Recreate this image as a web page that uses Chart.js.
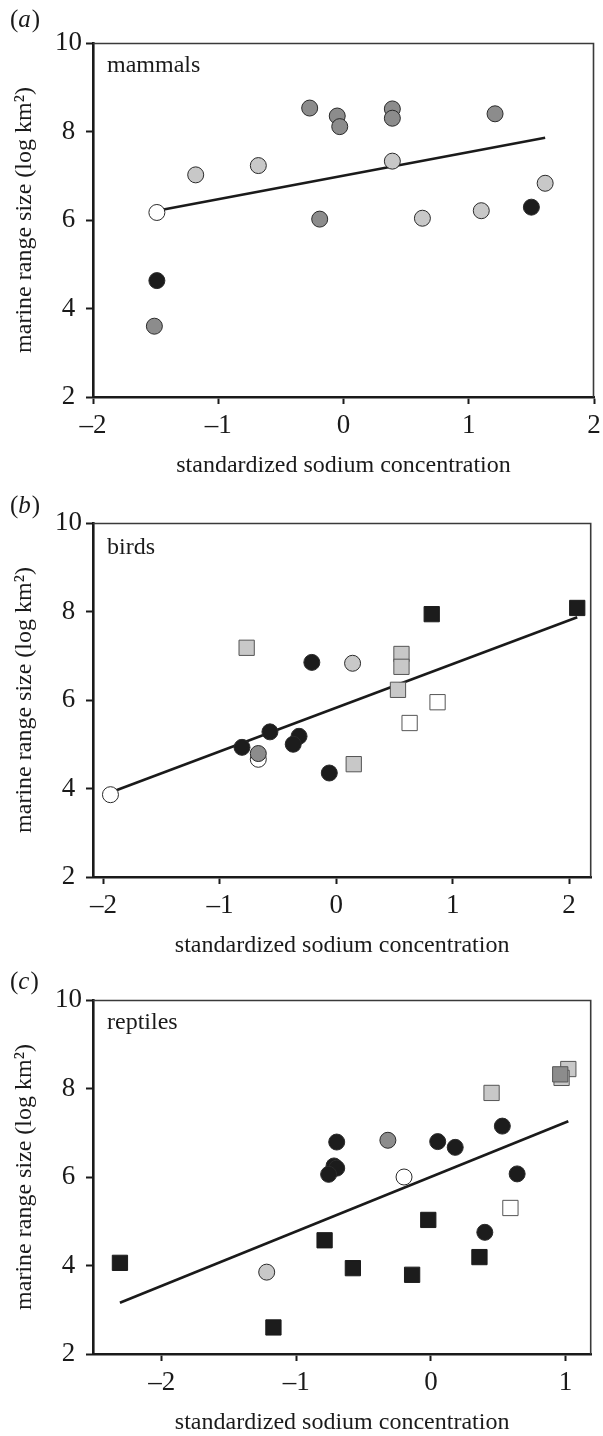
<!DOCTYPE html>
<html><head><meta charset="utf-8">
<script src="https://cdn.jsdelivr.net/npm/chart.js@4.4.0/dist/chart.umd.min.js"></script>
<style>
html,body{margin:0;padding:0;background:#fff;}
body{width:603px;height:1436px;position:relative;overflow:hidden;}
canvas{position:absolute;left:0;}
</style></head><body>
<canvas id="ca" width="603" height="480" style="top:0px"></canvas>
<canvas id="cb" width="603" height="480" style="top:480px"></canvas>
<canvas id="cc" width="603" height="480" style="top:957px"></canvas>
<script>
// ---------- data ----------
const yTicks = [2, 4, 6, 8, 10];
const xTitle = 'standardized sodium concentration';
const yTitle = 'marine range size (log km\u00B2)';

// (a) mammals
const aXTicks = [-2, -1, 0, 1, 2];
const aWhiteCircles = [[-1.49, 6.17]];
const aLightCircles = [[-1.18, 7.02], [-0.68, 7.23], [0.39, 7.33], [0.63, 6.04], [1.10, 6.21], [1.61, 6.83]];
const aDarkCircles = [[-0.27, 8.53], [-0.05, 8.35], [-0.03, 8.11], [-0.19, 6.02], [0.39, 8.51], [0.39, 8.30], [1.21, 8.40], [-1.51, 3.60]];
const aBlackCircles = [[-1.49, 4.63], [1.50, 6.29]];
const aFitX = [-1.49, 1.61];
const aFitY = [6.21, 7.86];

// (b) birds
const bXTicks = [-2, -1, 0, 1, 2];
const bWhiteCircles = [[-1.94, 3.86], [-0.67, 4.66]];
const bDarkCircles = [[-0.67, 4.79]];
const bLightCircles = [[0.14, 6.83]];
const bBlackCircles = [[-0.21, 6.85], [-0.57, 5.28], [-0.81, 4.93], [-0.32, 5.18], [-0.37, 5.00], [-0.06, 4.35]];
const bLightSquares = [[-0.77, 7.18], [0.56, 7.04], [0.56, 6.75], [0.53, 6.23], [0.15, 4.55]];
const bWhiteSquares = [[0.87, 5.95], [0.63, 5.48]];
const bBlackSquares = [[0.82, 7.94], [2.07, 8.08]];
const bFitX = [-1.93, 2.07];
const bFitY = [3.92, 7.87];

// (c) reptiles
const cXTicks = [-2, -1, 0, 1];
const cBlackCircles = [[-0.70, 6.79], [-0.72, 6.25], [-0.70, 6.20], [-0.76, 6.06], [0.05, 6.80], [0.18, 6.67], [0.53, 7.15], [0.64, 6.07], [0.40, 4.75]];
const cLightCircles = [[-1.22, 3.85]];
const cDarkCircles = [[-0.32, 6.83]];
const cWhiteCircles = [[-0.20, 6.00]];
const cBlackSquares = [[-2.31, 4.06], [-0.79, 4.57], [-0.58, 3.94], [-1.17, 2.60], [-0.02, 5.03], [-0.14, 3.79], [0.36, 4.19]];
const cWhiteSquares = [[0.59, 5.30]];
const cLightSquares = [[0.45, 7.90], [1.02, 8.44], [0.97, 8.24]];
const cDarkSquares = [[0.96, 8.32]];
const cFitX = [-2.31, 1.02];
const cFitY = [3.16, 7.26];

// ---------- styling ----------
const FONT = "'Liberation Serif', 'Times New Roman', serif";
const COL = { white: '#ffffff', light: '#c8c8c8', dark: '#8c8c8c', black: '#1c1c1c' };
const INK = '#1a1a1a';

function pts(arr) { return arr.map(p => ({ x: p[0], y: p[1] })); }
function fit(xs, ys) { return xs.map((x, i) => ({ x: x, y: ys[i] })); }

function markerSet(arr, fill, shape, order) {
  const sq = shape === 'rect';
  return {
    type: 'scatter',
    data: pts(arr),
    pointStyle: shape,
    pointRadius: sq ? 10.8 : 8,
    pointBackgroundColor: fill,
    pointBorderColor: sq ? (fill === COL.black ? '#1c1c1c' : '#555555') : '#2a2a2a',
    pointBorderWidth: 1,
    order: order
  };
}
function lineSet(xs, ys) {
  return {
    type: 'line',
    data: fit(xs, ys),
    borderColor: INK,
    borderWidth: 2.6,
    pointRadius: 0,
    fill: false,
    order: 100
  };
}

const framePlugin = {
  id: 'frame',
  afterDraw(chart, args, opts) {
    const { ctx, chartArea: a } = chart;
    ctx.save();
    ctx.strokeStyle = '#3a3a3a';
    ctx.lineWidth = 1.6;
    ctx.beginPath();
    ctx.moveTo(a.left, a.top + 0.5);
    ctx.lineTo(a.right - 0.5, a.top + 0.5);
    ctx.lineTo(a.right - 0.5, a.bottom);
    ctx.stroke();
    ctx.fillStyle = INK;
    ctx.textBaseline = 'alphabetic';
    ctx.textAlign = 'left';
    let x = opts.letterX;
    const y = opts.letterY;
    ctx.font = '25px ' + FONT;
    ctx.fillText('(', x, y); x += ctx.measureText('(').width;
    ctx.font = 'italic 25px ' + FONT;
    ctx.fillText(opts.letter, x, y); x += ctx.measureText(opts.letter).width + 1;
    ctx.font = '25px ' + FONT;
    ctx.fillText(')', x, y);
    ctx.font = '24px ' + FONT;
    ctx.fillText(opts.name, a.left + 14, a.top + opts.nameDy);
    ctx.restore();
  }
};

function tickFmt(v) { return v < 0 ? '\u2013' + Math.abs(v) : String(v); }

function makeChart(id, xMin, xMax, xTicks, datasets, panel) {
  return new Chart(document.getElementById(id), {
    data: { datasets: datasets },
    plugins: [framePlugin],
    options: {
      responsive: false,
      devicePixelRatio: 1,
      animation: false,
      events: [],
      layout: { padding: { top: 43, left: 0, right: 6, bottom: 0 } },
      plugins: {
        legend: { display: false },
        tooltip: { enabled: false },
        frame: panel
      },
      scales: {
        x: {
          type: 'linear',
          min: xMin, max: xMax,
          afterBuildTicks: s => { s.ticks = xTicks.map(v => ({ value: v })); },
          afterFit: s => { s.height = 83; s.paddingLeft = 0; s.paddingRight = 0; },
          border: { display: true, color: INK, width: 2.6 },
          grid: { display: true, drawOnChartArea: false, drawTicks: true, tickLength: 7, tickWidth: 2, tickColor: INK },
          ticks: { callback: tickFmt, color: INK, padding: 6, maxRotation: 0, font: { family: FONT, size: 27 } },
          title: { display: true, text: xTitle, color: INK, padding: { top: 0, bottom: 0 }, font: { family: FONT, size: 24 } }
        },
        y: {
          type: 'linear',
          min: 2, max: 10,
          afterBuildTicks: s => { s.ticks = yTicks.map(v => ({ value: v })); },
          afterFit: s => { s.width = 93; s.paddingTop = 0; s.paddingBottom = 0; },
          border: { display: true, color: INK, width: 2.6 },
          grid: { display: true, drawOnChartArea: false, drawTicks: true, tickLength: 7, tickWidth: 2, tickColor: INK },
          ticks: { callback: tickFmt, color: INK, padding: 4, crossAlign: 'center', font: { family: FONT, size: 27 } },
          title: { display: true, text: yTitle, color: INK, padding: { top: 10, bottom: 0 }, font: { family: FONT, size: 24 } }
        }
      }
    }
  });
}

makeChart('ca', -2, 2, aXTicks, [
  lineSet(aFitX, aFitY),
  markerSet(aWhiteCircles, COL.white, 'circle', 5),
  markerSet(aLightCircles, COL.light, 'circle', 4),
  markerSet(aDarkCircles, COL.dark, 'circle', 3),
  markerSet(aBlackCircles, COL.black, 'circle', 2)
], { letter: 'a', letterX: 10, letterY: 27, name: 'mammals', nameDy: 29 });

makeChart('cb', -2.09, 2.19, bXTicks, [
  lineSet(bFitX, bFitY),
  markerSet(bWhiteCircles, COL.white, 'circle', 9),
  markerSet(bBlackCircles, COL.black, 'circle', 8),
  markerSet(bDarkCircles, COL.dark, 'circle', 7),
  markerSet(bLightCircles, COL.light, 'circle', 6),
  markerSet(bLightSquares, COL.light, 'rect', 5),
  markerSet(bWhiteSquares, COL.white, 'rect', 4),
  markerSet(bBlackSquares, COL.black, 'rect', 3)
], { letter: 'b', letterX: 10, letterY: 33, name: 'birds', nameDy: 31 });

makeChart('cc', -2.51, 1.19, cXTicks, [
  lineSet(cFitX, cFitY),
  markerSet(cBlackCircles, COL.black, 'circle', 9),
  markerSet(cLightCircles, COL.light, 'circle', 8),
  markerSet(cDarkCircles, COL.dark, 'circle', 7),
  markerSet(cWhiteCircles, COL.white, 'circle', 6),
  markerSet(cBlackSquares, COL.black, 'rect', 5),
  markerSet(cWhiteSquares, COL.white, 'rect', 4),
  markerSet(cLightSquares, COL.light, 'rect', 3),
  markerSet(cDarkSquares, COL.dark, 'rect', 2)
], { letter: 'c', letterX: 10, letterY: 32, name: 'reptiles', nameDy: 29 });
</script>
</body></html>
